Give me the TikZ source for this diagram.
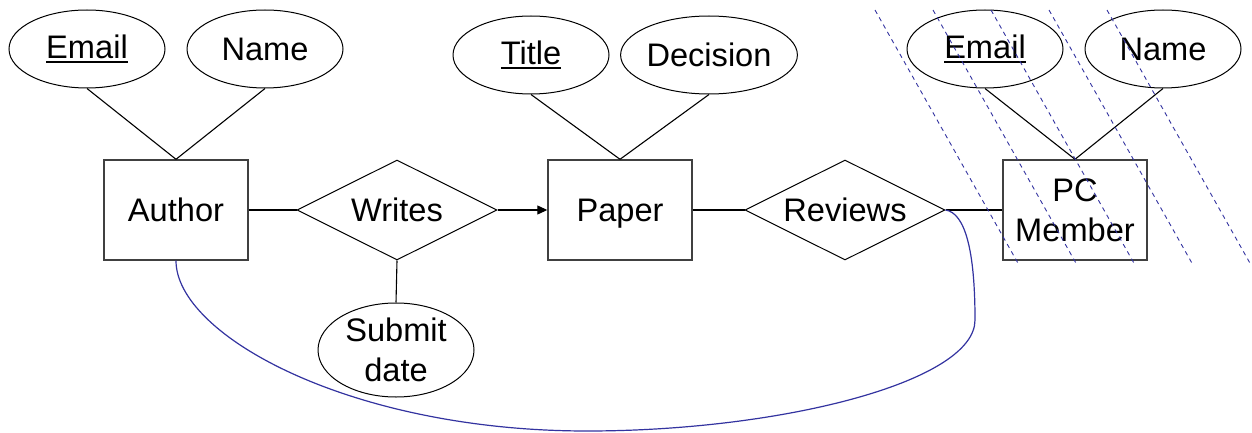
\documentclass[tikz,border=0pt]{standalone}
\usepackage{fontspec}
\setmainfont{Liberation Sans}
\usepackage{tikz}
\usetikzlibrary{shapes.geometric, arrows.meta}
\definecolor{erline}{RGB}{64, 64, 64}
\definecolor{erblue}{RGB}{51, 51, 160}
% key attribute: thick underline
\newcommand{\keyattr}[1]{\setbox0\hbox{#1}\rlap{\rule[-2.6pt]{\wd0}{1.2pt}}\box0}
\tikzset{
  entity/.style={draw=erline, line width=0.7pt, minimum width=72pt, minimum height=50pt, inner sep=0pt, align=center},
  attr/.style={ellipse, draw=black, line width=0.5pt, minimum width=78pt, minimum height=39pt, inner sep=0pt, align=center},
  rel/.style={diamond, aspect=2, draw=black, line width=0.5pt, minimum width=100pt, minimum height=50pt, inner sep=0pt},
  link/.style={black, line width=0.55pt},
  hatch/.style={erblue, dash pattern=on 2.2pt off 2pt, line width=0.45pt}
}

\begin{document}
\begin{tikzpicture}[x=0.5pt, y=-0.5pt, every node/.style={font=\fontsize{16.3}{19.8}\selectfont}]
			\useasboundingbox (0,0) rectangle (1252,433);

			% --- Author with its attributes ---
			\node[attr]   (aemail) at (87,49)  {\keyattr{Email}};
			\node[attr]   (aname)  at (265,49) {Name};
			\node[entity] (author) at (176,210) {Author};

			% --- Writes ---
			\node[rel]  (writes) at (397,210) {Writes};
			\node[attr, minimum height=47pt] (submit) at (396,350) {Submit\\date};

			% --- Paper with its attributes ---
			\node[attr]   (ptitle)    at (531,55) {\keyattr{Title}};
			\node[attr]   (pdecision) at (709,55) {Decision};
			\node[entity, text depth=0pt] (paper) at (620,210) {Paper};

			% --- Reviews ---
			\node[rel] (reviews) at (845,210) {Reviews};

			% --- PC Member with its attributes ---
			\node[attr]   (pcemail)  at (985,49)   {\keyattr{Email}};
			\node[attr]   (pcname)   at (1163,49)  {Name};
			\node[entity] (pcmember) at (1075,210) {PC\\Member};

			% --- Connectors ---
			\draw[link] (aemail.south) -- (author.north);
			\draw[link] (aname.south) -- (author.north);
			\draw[link] (author.east) -- (writes.west);
			\draw[link, -{Triangle[length=5pt, width=4.5pt]}] (writes.east) -- (paper.west);
			\draw[link] (writes.south) -- (submit.north);
			\draw[link] (ptitle.south) -- (paper.north);
			\draw[link] (pdecision.south) -- (paper.north);
			\draw[link] (paper.east) -- (reviews.west);
			\draw[link] (reviews.east) -- (pcmember.west);
			\draw[link] (pcemail.south) -- (pcmember.north);
			\draw[link] (pcname.south) -- (pcmember.north);

			% --- Constraint curve ---
			\draw[erblue, line width=0.6pt] (author.south)
				.. controls (176,335) and (350,431) .. (587,431)
				.. controls (780,431) and (975,382) .. (975,320)
				.. controls (975,250) and (965,213) .. (reviews.east);

			% --- Hatching over PC Member ---
			\foreach \i in {0,...,4}
				\draw[hatch] (875+58*\i,10) -- (1019+58*\i,265);
		\end{tikzpicture}
\end{document}
